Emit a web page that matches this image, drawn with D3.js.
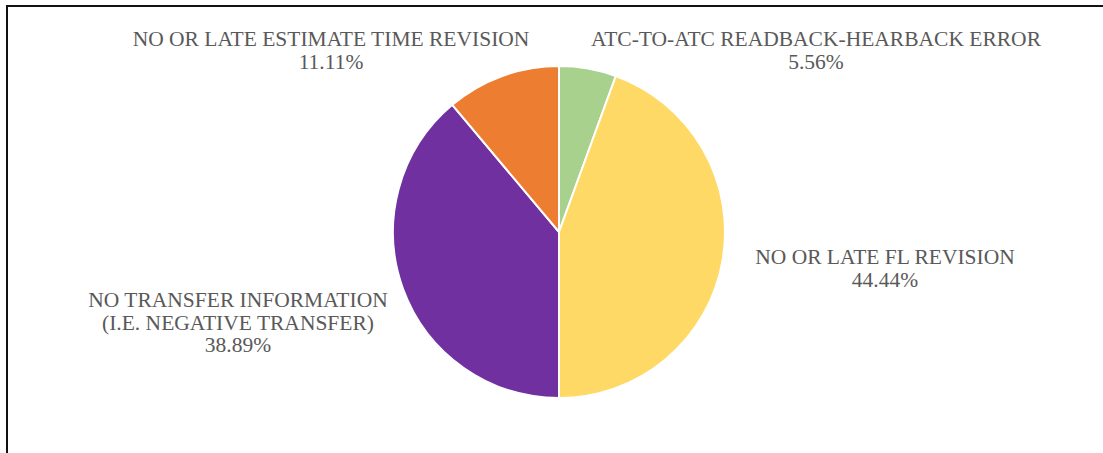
<html>
<head>
    <meta charset="utf-8">
    <title>pie</title>
    <style>
        body { margin: 0; background: #fff; }
        text.lbl { font-family: 'Liberation Serif', 'DejaVu Serif', serif; font-size: 21.5px; fill: #595959; }
    </style>
</head>
<body>
<script src="https://cdn.jsdelivr.net/npm/d3@7"></script>
<script>
    var width = 1103;
    var height = 453;

    // data
    var categories = [
        "ATC-TO-ATC READBACK-HEARBACK ERROR",
        "NO OR LATE FL REVISION",
        "NO TRANSFER INFORMATION|(I.E. NEGATIVE TRANSFER)",
        "NO OR LATE ESTIMATE TIME REVISION"
    ];
    var values = [5.56, 44.44, 38.89, 11.11];
    var colors = ["#A9D18E", "#FFD966", "#7030A0", "#ED7D31"];

    // label anchor points (centre x, first baseline y)
    var labelPos = [[816, 46], [885, 264], [238, 307], [331, 46]];

    var svg = d3.select('body')
            .append('svg')
            .attr('width', width)
            .attr('height', height);

    // frame (only left and top edges are visible)
    svg.append('path')
            .attr('d', 'M7,' + height + 'V6H' + width)
            .attr('fill', 'none')
            .attr('stroke', '#111')
            .attr('stroke-width', 2);

    var cx = 559, cy = 232, r = 166;

    var pie = d3.pie().sort(null).value(function (d) { return d; });
    var arc = d3.arc().innerRadius(0).outerRadius(r);

    var g = svg.append('g').attr('transform', 'translate(' + cx + ',' + cy + ')');
    g.selectAll('path')
            .data(pie(values))
            .enter()
            .append('path')
            .attr('d', arc)
            .attr('fill', function (d, i) { return colors[i]; })
            .attr('stroke', '#fff')
            .attr('stroke-width', 2);

    var labels = svg.selectAll('text.lbl')
            .data(categories)
            .enter()
            .append('text')
            .attr('class', 'lbl')
            .attr('text-anchor', 'middle');

    labels.each(function (d, i) {
        var lines = d.split('|').concat([values[i].toFixed(2) + '%']);
        var t = d3.select(this);
        lines.forEach(function (s, j) {
            t.append('tspan')
                    .attr('x', labelPos[i][0])
                    .attr('y', labelPos[i][1] + j * 22.5)
                    .text(s);
        });
    });
</script>
</body>
</html>
